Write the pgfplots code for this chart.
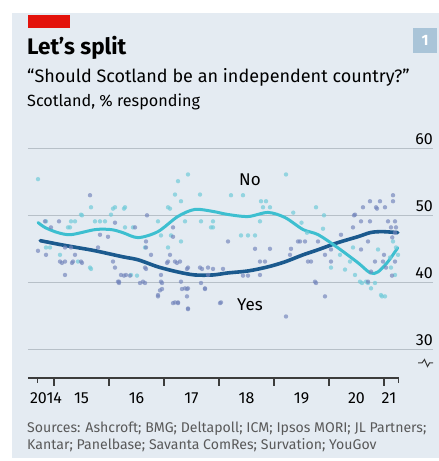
\documentclass[border=0pt]{standalone}
\usepackage{pgfplots}
\pgfplotsset{compat=1.18}
\usepackage{pgfplotstable}
\usepackage{fontspec}
\setmainfont{Fira Sans}
\definecolor{panel}{HTML}{E4EBF2}
\definecolor{gridc}{HTML}{B7C0C8}
\definecolor{noline}{HTML}{3DBFD0}
\definecolor{yesline}{HTML}{1B5A8E}
\definecolor{nodot}{HTML}{74CCDA}
\definecolor{yesdot}{HTML}{7486BC}
\definecolor{econred}{HTML}{E3120B}
\definecolor{boxc}{HTML}{A9C4D8}
\definecolor{axisc}{HTML}{3C3C3C}
\definecolor{srcc}{HTML}{595959}

\pgfplotstableread{
t v
2015.655 53.1
2015.091 49.2
2014.836 49.2
2014.945 48.3
2014.709 44.8
2014.855 44.2
2015.200 45.3
2015.309 45.3
2015.382 44.2
2015.109 43.2
2015.200 43.2
2015.345 43.2
2015.491 43.2
2015.200 41.2
2015.800 45.3
2016.073 43.2
2016.109 42.3
2016.182 40.2
2015.836 47.2
2015.982 46.9
2016.109 49.0
2016.473 48.3
2017.164 48.3
2017.164 46.9
2016.673 46.2
2016.673 45.3
2016.764 44.2
2017.109 44.2
2017.073 43.2
2017.200 43.2
2017.291 43.2
2016.655 42.3
2016.945 41.2
2017.436 42.3
2017.655 42.3
2017.800 42.3
2016.218 41.2
2016.309 41.2
2016.618 40.2
2016.945 40.2
2017.309 40.2
2016.927 38.9
2017.382 39.2
2017.436 39.2
2017.745 39.2
2016.891 38.2
2017.200 37.1
2017.255 37.1
2017.436 36.2
2016.164 40.2
2016.691 50.1
2018.164 46.2
2018.655 45.1
2018.927 45.1
2019.309 45.1
2019.436 46.2
2018.745 43.2
2018.836 43.2
2019.291 44.2
2017.891 42.1
2018.073 42.1
2018.745 41.2
2018.436 41.1
2018.527 41.1
2018.036 37.1
2019.218 35.0
2017.800 41.2
2020.745 52.2
2020.927 52.2
2020.618 51.3
2020.855 51.3
2021.018 51.3
2021.164 53.1
2021.164 52.2
2020.473 50.2
2020.582 49.2
2020.745 49.2
2021.073 49.2
2021.200 49.2
2021.127 48.3
2021.218 48.3
2020.436 48.3
2020.709 46.2
2019.473 46.2
2019.564 46.2
2019.800 46.2
2020.218 47.2
2020.036 45.0
2020.582 45.0
2021.000 44.2
2019.618 43.2
2019.673 43.2
2019.927 44.2
2020.036 43.2
2020.836 43.2
2020.982 43.2
2021.200 43.2
2019.745 40.2
2019.927 38.0
2020.709 40.2
2021.036 42.3
2020.764 41.7
2019.764 40.0
2021.145 41.1
2020.455 50.1
2020.873 51.1
2015.145 43.0
2015.327 43.0
2015.509 43.0
2017.055 43.0
2017.236 43.0
2017.418 42.1
2017.691 42.1
2016.182 40.0
2016.564 40.0
2016.655 40.0
2016.964 40.0
2016.964 39.1
2016.891 38.0
2017.164 37.0
2017.255 37.0
2017.436 36.1
2017.327 39.1
2017.418 39.1
2017.418 38.0
2017.673 40.0
2017.745 39.1
2018.018 37.0
2016.273 41.1
2016.382 41.1
2016.673 42.1
2021.200 47.5
2021.150 46.8
}\yesdots

\pgfplotstableread{
t v
2014.709 55.5
2015.673 51.3
2015.491 50.2
2016.036 50.2
2016.109 51.3
2014.855 49.2
2015.255 48.3
2015.291 48.3
2015.745 49.2
2015.836 49.2
2015.927 49.2
2015.309 49.2
2015.382 49.2
2015.655 42.3
2015.109 44.2
2014.855 45.3
2014.927 45.3
2015.436 43.2
2016.073 51.1
2016.273 51.1
2015.509 50.1
2017.436 56.2
2017.255 55.2
2017.200 53.2
2017.655 53.2
2016.291 51.3
2017.073 51.3
2017.309 52.2
2016.891 49.2
2017.382 49.2
2017.673 49.2
2016.291 48.3
2016.436 48.3
2017.127 47.1
2016.945 47.1
2016.655 45.3
2017.073 45.3
2017.309 46.2
2017.855 48.3
2016.400 41.2
2016.509 41.1
2017.109 51.1
2015.673 42.1
2019.218 56.2
2018.218 53.1
2018.436 53.1
2018.764 52.2
2018.855 52.2
2018.800 51.3
2018.927 51.3
2018.745 49.2
2017.891 49.2
2017.891 48.3
2018.400 47.1
2018.527 47.1
2018.655 47.1
2019.764 51.3
2019.909 50.1
2019.891 48.1
2019.500 49.0
2019.350 50.5
2019.600 47.5
2020.436 45.3
2020.564 40.2
2020.673 40.2
2020.764 39.2
2021.018 38.0
2020.945 38.2
2020.036 42.3
2021.200 41.2
2021.127 42.3
2020.891 45.0
2021.218 45.3
2021.164 46.2
2020.600 40.0
2020.709 40.0
2020.836 40.0
2020.964 38.0
2020.200 44.2
2020.382 43.2
2020.291 42.0
2020.473 41.2
2021.109 43.8
2021.255 44.2
}\nodots

\pgfplotstableread{
t v
2014.71 49.02
2014.84 48.27
2015.07 47.52
2015.31 47.22
2015.75 47.97
2016.04 47.97
2016.25 47.52
2016.53 46.77
2016.89 47.67
2017.25 49.92
2017.56 50.98
2017.89 50.68
2018.16 50.23
2018.53 49.92
2018.89 50.53
2019.20 49.77
2019.53 47.97
2019.80 47.22
2020.16 45.26
2020.53 43.00
2020.75 41.50
2020.89 41.65
2021.07 43.16
2021.25 45.26
}\noline

\pgfplotstableread{
t v
2014.75 46.32
2015.13 45.71
2015.44 45.26
2015.75 44.81
2016.25 43.91
2016.53 43.46
2016.89 42.41
2017.25 41.65
2017.56 41.20
2017.89 41.20
2018.16 41.50
2018.53 41.80
2018.89 42.41
2019.20 43.16
2019.53 44.21
2019.80 44.96
2020.16 46.02
2020.53 46.92
2020.75 47.52
2020.95 47.67
2021.25 47.52
}\yesline

\begin{document}
\begin{tikzpicture}[x=1pt,y=1pt]
\useasboundingbox (0,0) rectangle (439,461);
\fill[white] (0,0) rectangle (439,461);
\fill[panel] (12,3) rectangle (439,448);
\fill[econred] (28,433) rectangle (70,446);
\fill[boxc] (413,408) rectangle (437,433);
\node[text=white, inner sep=0pt, font=\bfseries\fontsize{15}{15}\selectfont] at (425,420.5) {1};
\node[anchor=base west, inner sep=0pt, font=\bfseries\fontsize{22.5}{22.5}\selectfont] at (27,406) {Let’s split};
\node[anchor=base west, inner sep=0pt, font=\fontsize{18}{18}\selectfont] at (27,378) {“Should Scotland be an independent country?”};
\node[anchor=base west, inner sep=0pt, font=\fontsize{16.2}{16.2}\selectfont] at (27,354) {Scotland, \% responding};
\node[anchor=base west, inner sep=0pt, text=srcc, font=\fontsize{14.1}{14.1}\selectfont] at (27,28) {Sources: Ashcroft; BMG; Deltapoll; ICM; Ipsos MORI; JL Partners;};
\node[anchor=base west, inner sep=0pt, text=srcc, font=\fontsize{14.1}{14.1}\selectfont] at (27,11) {Kantar; Panelbase; Savanta ComRes; Survation; YouGov};

\begin{axis}[
  at={(28pt,83pt)}, anchor=south west,
  x=55pt, y=6.7pt,
  xmin=2014.5273, xmax=2021.891, ymin=25.82, ymax=62,
  axis line style={draw=none},
  clip=false,
  major tick length=0pt,
  ytick={30,40,50,60},
  ymajorgrids, grid style={gridc, line width=1pt},
  yticklabel pos=right,
  yticklabel style={anchor=base east, inner sep=0pt, yshift=4pt, font=\fontsize{16}{16}\selectfont},
  xtick={2014.855,2015.5,2016.5,2017.5,2018.5,2019.5,2020.5,2021.09},
  xticklabels={2014,15,16,17,18,19,20,21},
  xticklabel style={anchor=base, inner sep=0pt, yshift=-26pt, font=\fontsize{16}{16}\selectfont},
  /pgf/number format/assume math mode=true,
]
\addplot[only marks, mark=*, color=nodot, mark size=2.2pt, mark options={draw opacity=0, fill opacity=0.72}] table[x=t,y=v] {\nodots};
\addplot[only marks, mark=*, color=yesdot, mark size=2.2pt, mark options={draw opacity=0, fill opacity=0.68}] table[x=t,y=v] {\yesdots};
\addplot[yesline, line width=3.6pt, smooth, line cap=round] table[x=t,y=v] {\yesline};
\addplot[noline, line width=3pt, smooth, line cap=round] table[x=t,y=v] {\noline};
\draw[axisc, line width=1.4pt] (axis cs:2014.5273,25.82) -- (axis cs:2021.27,25.82);
\draw[axisc, line width=1.2pt] (axis cs:2015,25.82) -- ++(0pt,-8pt);
\draw[axisc, line width=1.2pt] (axis cs:2016,25.82) -- ++(0pt,-8pt);
\draw[axisc, line width=1.2pt] (axis cs:2017,25.82) -- ++(0pt,-8pt);
\draw[axisc, line width=1.2pt] (axis cs:2018,25.82) -- ++(0pt,-8pt);
\draw[axisc, line width=1.2pt] (axis cs:2019,25.82) -- ++(0pt,-8pt);
\draw[axisc, line width=1.2pt] (axis cs:2020,25.82) -- ++(0pt,-8pt);
\draw[axisc, line width=1.2pt] (axis cs:2021,25.82) -- ++(0pt,-8pt);
\draw[axisc, line width=1.2pt] (axis cs:2014.70,25.82) -- ++(0pt,-5pt);
\draw[axisc, line width=1.2pt] (axis cs:2021.27,25.82) -- ++(0pt,-5pt);
\end{axis}
\draw[axisc, line width=1pt] (418,98) -- (422,98) -- (424.5,101.5) -- (427.5,94.5) -- (429.5,98) -- (433,98);
\node[font=\fontsize{17}{17}\selectfont, inner sep=0pt] at (250,281) {No};
\node[font=\fontsize{17}{17}\selectfont, inner sep=0pt] at (250,156) {Yes};
\end{tikzpicture}
\end{document}
